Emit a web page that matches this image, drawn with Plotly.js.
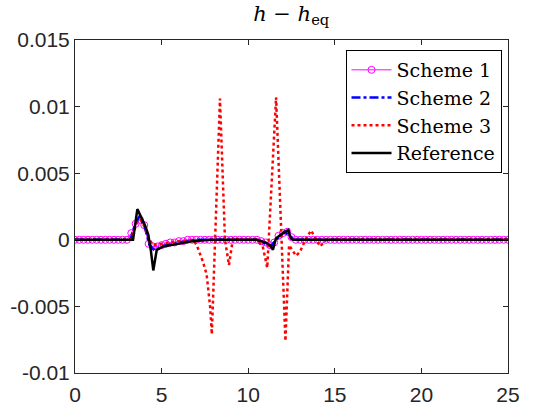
<!DOCTYPE html>
<html>
<head>
<meta charset="utf-8">
<script src="https://cdn.plot.ly/plotly-3.0.1.min.js"></script>
<style>html,body{margin:0;padding:0;background:#fff;}#chart{width:560px;height:420px;}</style>
</head>
<body>
<div id="chart"></div>
<script>
// Scheme 1: sampled every 0.25 from 0 to 25
var scheme1Step = 0.25;
var scheme1Y = [
  0,0,0,0,0,0,0,0,0,0,0,0,0,
  0.0005,0.0012,0.0015,0.0011,-0.0003,-0.0005,-0.0005,-0.0004,-0.0003,-0.0002,-0.0002,-0.0001,-0.0001,
  0,0,0,0,0,0,0,0,0,0,0,0,0,0,0,0,0,
  -0.0001,-0.0002,-0.0004,-0.0002,0.0003,0.0005,0.0006,0.0002,0,
  0,0,0,0,0,0,0,0,0,0,0,0,0,0,0,0,0,0,0,0,0,0,0,0,0,
  0,0,0,0,0,0,0,0,0,0,0,0,0,0,0,0,0,0,0,0,0,0,0,0
];
var scheme2X = [0, 3.2, 3.45, 3.7, 4.0, 4.3, 4.6, 5.0, 6.0, 7.0, 10.5, 11.3, 11.6, 12.1, 12.4, 12.7, 25];
var scheme2Y = [0, 0, 0.0011, 0.0017, 0.0011, -0.0004, -0.0008, -0.0005, -0.0002, 0, 0, -0.0005, 0, 0.0006, 0.0003, 0, 0];
var scheme3X = [0, 3.2, 3.4, 3.6, 3.8, 4.0, 4.3, 4.5, 5.0, 6.0, 6.8, 7.03, 7.4, 7.6, 7.8, 7.9, 8.37, 8.66, 8.89, 9.12, 9.5, 10.5, 10.84, 11.1, 11.61, 12.15, 12.36, 12.76, 12.99, 13.3, 13.63, 14.15, 14.5, 25];
var scheme3Y = [0, 0, 0.0006, 0.0014, 0.0015, 0.001, 0, -0.0004, -0.0003, -0.0001, 0, -0.0004, -0.0017, -0.0026, -0.005, -0.0071, 0.0106, 0, -0.0019, 0.0001, 0, 0, -0.0005, -0.0021, 0.0107, -0.0076, -0.0004, -0.0012, -0.0009, 0, 0.0007, -0.0005, 0, 0];
var refX = [0, 3.35, 3.6, 4.04, 4.23, 4.38, 4.52, 4.72, 5.1, 6.0, 6.8, 7.8, 10.5, 11.0, 11.26, 11.43, 11.6, 12.0, 12.32, 12.45, 12.6, 25];
var refY = [0, 0, 0.0023, 0.0011, 0.0004, -0.0008, -0.0023, -0.00075, -0.0005, -0.0003, -0.0001, 0, 0, -0.0002, -0.0004, -0.00075, 0.0001, 0.0005, 0.00075, 0.0001, 0, 0];
var yTickVals = [-0.01, -0.005, 0, 0.005, 0.01, 0.015];
var yTickText = ['-0.01', '-0.005', '0', '0.005', '0.01', '0.015'];
var xTickVals = [0, 5, 10, 15, 20, 25];
var seriesNames = ['Scheme 1', 'Scheme 2', 'Scheme 3', 'Reference'];

var scheme1X = scheme1Y.map(function(_, i){ return i * scheme1Step; });

var SERIF = "DejaVu Serif";
var SANS = "Liberation Sans";

var traces = [
  {x: scheme1X, y: scheme1Y, name: seriesNames[0], mode: 'lines+markers',
   line: {color: '#ff00ff', width: 1}, marker: {symbol: 'circle-open', size: 7, color: '#ff00ff', line: {width: 1}}},
  {x: scheme2X, y: scheme2Y, name: seriesNames[1], mode: 'lines',
   line: {color: '#0000ff', width: 2.5, dash: 'dashdot'}},
  {x: scheme3X, y: scheme3Y, name: seriesNames[2], mode: 'lines',
   line: {color: '#ff0000', width: 2.5, dash: 'dot'}},
  {x: refX, y: refY, name: seriesNames[3], mode: 'lines',
   line: {color: '#000000', width: 2.5}}
];

var axisCommon = {
  showgrid: false, zeroline: false, showline: true, linecolor: '#262626', linewidth: 1,
  mirror: 'ticks', ticks: 'inside', ticklen: 5, tickcolor: '#262626',
  tickfont: {family: SANS, size: 21, color: '#262626'}
};

var layout = {
  width: 560, height: 420,
  margin: {l: 75, r: 52, t: 40, b: 47},
  paper_bgcolor: '#ffffff', plot_bgcolor: '#ffffff',
  title: {text: '<i>h</i> − <i>h</i><sub>eq</sub>', x: 0.52, xanchor: 'center', y: 0.985, yanchor: 'top',
          font: {family: SERIF, size: 21, color: '#000'}},
  xaxis: Object.assign({}, axisCommon, {range: [0, 25], tickvals: xTickVals, ticktext: xTickVals.map(String), ticklabelstandoff: 3}),
  yaxis: Object.assign({}, axisCommon, {range: [-0.01, 0.015], tickvals: yTickVals, ticktext: yTickText}),
  legend: {x: 0.985, xanchor: 'right', y: 0.97, yanchor: 'top', bgcolor: '#ffffff',
           bordercolor: '#000000', borderwidth: 1, itemwidth: 40, tracegroupgap: 0,
           font: {family: SERIF, size: 19, color: '#000'}},
  showlegend: true
};

Plotly.newPlot('chart', traces, layout, {displayModeBar: false, staticPlot: true});
</script>
</body>
</html>
